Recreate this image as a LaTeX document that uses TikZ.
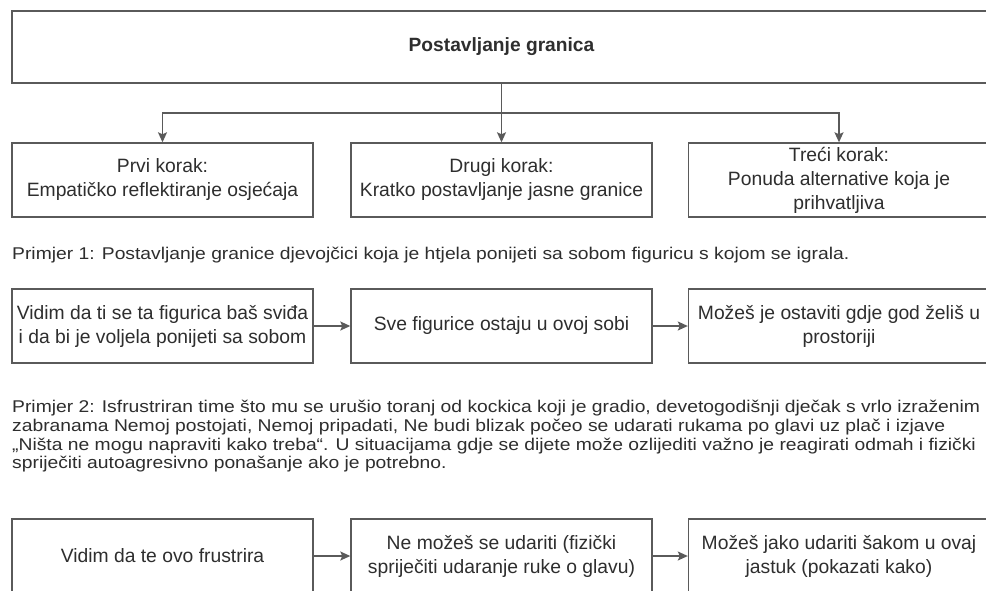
\documentclass[tikz,border=0pt]{standalone}
\usepackage{fontspec}
\setmainfont{Liberation Sans}
\newfontfamily\siroki{Liberation Sans}[FakeStretch=1.135]
\usetikzlibrary{arrows.meta}
\definecolor{linegray}{HTML}{5A5A5A}
\definecolor{textgray}{HTML}{2E2E2E}
\tikzset{
	korak/.style={draw=linegray, line width=1.4pt, minimum width=301pt, minimum height=74pt, inner sep=0pt, align=center, text=textgray, font=\fontsize{19.3}{24}\selectfont},
	primjer/.style={inner sep=0pt, align=left, text=textgray, font=\siroki\fontsize{17}{18.8}\selectfont},
	veza/.style={draw=linegray, line width=1.4pt, -{Stealth[length=10pt,width=9pt,inset=2pt]}},
}

\begin{document}
\begin{tikzpicture}[x=1pt, y=-1pt]
		\useasboundingbox[fill=white] (0,0) rectangle (986,590);
		% naslov i tri koraka
		\node[korak, minimum width=979pt, minimum height=72pt, font=\bfseries\fontsize{19.2}{24}\selectfont] (naslov) at (501.5,47) {Postavljanje granica};
		\node[korak] (k1) at (162.5,180) {Prvi korak:\\Empatičko reflektiranje osjećaja};
		\node[korak] (k2) at (501.5,180) {Drugi korak:\\Kratko postavljanje jasne granice};
		\node[korak] (k3) at (839,180) {Treći korak:\\Ponuda alternative koja je\\prihvatljiva};
		\coordinate (grana) at (501.5,113);
		\draw[veza] (naslov.south) -- (k2.north);
		\draw[veza] (grana) -| (k1.north);
		\draw[veza] (grana) -| (k3.north);
		% primjer 1
		\node[primjer, anchor=base west] (p1) at (12,259) {Primjer 1: Postavljanje granice djevojčici koja je htjela ponijeti sa sobom figuricu s kojom se igrala.};
		\node[korak] (a1) at (162.5,326) {Vidim da ti se ta figurica baš sviđa\\i da bi je voljela ponijeti sa sobom};
		\node[korak] (a2) at (501.5,326) {Sve figurice ostaju u ovoj sobi};
		\node[korak] (a3) at (839,326) {Možeš je ostaviti gdje god želiš u\\prostoriji};
		\draw[veza] (a1) -- (a2);
		\draw[veza] (a2) -- (a3);
		% primjer 2
		\node[primjer, anchor=north west] (p2) at (12,400) {Primjer 2: Isfrustriran time što mu se urušio toranj od kockica koji je gradio, devetogodišnji dječak s vrlo izraženim\\zabranama Nemoj postojati, Nemoj pripadati, Ne budi blizak počeo se udarati rukama po glavi uz plač i izjave\\„Ništa ne mogu napraviti kako treba“. U situacijama gdje se dijete može ozlijediti važno je reagirati odmah i fizički\\spriječiti autoagresivno ponašanje ako je potrebno.};
		\node[korak] (b1) at (162.5,556) {Vidim da te ovo frustrira};
		\node[korak] (b2) at (501.5,556) {Ne možeš se udariti (fizički\\spriječiti udaranje ruke o glavu)};
		\node[korak] (b3) at (839,556) {Možeš jako udariti šakom u ovaj\\jastuk (pokazati kako)};
		\draw[veza] (b1) -- (b2);
		\draw[veza] (b2) -- (b3);
\end{tikzpicture}
\end{document}
